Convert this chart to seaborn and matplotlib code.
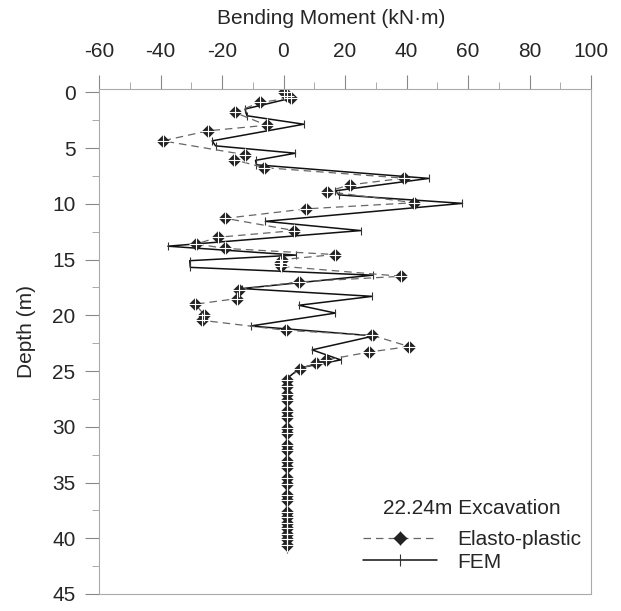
import matplotlib
matplotlib.use("Agg")
import matplotlib.pyplot as plt
from matplotlib.lines import Line2D
from matplotlib.ticker import MultipleLocator
import seaborn as sns

# ---- data ----
ep_depth = [0.0, 0.3, 0.5, 0.9, 1.8, 2.95, 3.45, 4.35, 5.6, 6.05, 6.75, 7.7, 8.3, 8.9,
            9.9, 10.45, 11.3, 12.4, 13.0, 13.6, 14.0, 14.55, 15.0, 15.3, 15.6, 16.5,
            17.0, 17.7, 18.5, 19.0, 19.95, 20.45, 21.35, 21.8, 22.8, 23.3, 24.0, 24.3,
            24.8, 25.8, 26.3, 27.1, 27.6, 28.6, 29.1, 30.1, 30.6, 31.6, 32.1, 33.1,
            33.6, 34.6, 35.1, 36.1, 36.6, 37.6, 38.1, 38.6, 39.1, 39.6, 40.1, 40.6]
ep_moment = [0.1, 1.2, 2.6, -7.5, -15.9, -5.5, -24.5, -39.3, -12.4, -16.0, -6.4, 39.2,
             21.6, 14.2, 42.5, 7.4, -18.9, 3.5, -21.3, -28.3, -19.0, 16.7, -0.4, -1.0,
             -0.8, 38.3, 5.2, -14.6, -15.1, -28.7, -25.8, -26.5, 0.9, 28.9, 40.8, 27.8,
             13.9, 10.6, 5.3, 1.0, 1.0, 1.0, 1.0, 1.0, 1.0, 1.0, 1.0, 1.0, 1.0, 1.0,
             1.0, 1.0, 1.0, 1.0, 1.0, 1.0, 1.0, 1.0, 1.0, 1.0, 1.0, 1.0]

fem_depth = [0.0, 0.5, 1.5, 2.1, 2.86, 4.35, 4.8, 5.46, 6.1, 6.5, 7.72, 8.83, 9.2, 9.96,
             11.57, 12.4, 13.8, 14.6, 15.1, 15.7, 16.4, 17.6, 18.3, 19.1, 19.8, 20.96,
             21.85, 23.1, 24.0, 24.7, 25.7, 41.0]
fem_moment = [0.3, 2.8, -12.5, -11.9, 6.6, -23.2, -22.1, 3.9, -9.1, -8.8, 47.3, 16.9,
              18.0, 58.2, -5.9, 25.1, -37.6, 4.0, -30.5, -30.3, 29.0, -13.5, 28.9, 5.0,
              16.9, -10.7, 29.4, 9.3, 18.6, 5.5, 1.0, 1.0]

x_ticks = [-60, -40, -20, 0, 20, 40, 60, 80, 100]
y_ticks = [0, 5, 10, 15, 20, 25, 30, 35, 40, 45]

title_text = "Bending Moment (kN\u00b7m)"
ylabel_text = "Depth (m)"
legend_title = "22.24m Excavation"
ep_label = "Elasto-plastic"
fem_label = "FEM"

# ---- style ----
sns.set_theme(style="ticks")
plt.rcParams["font.family"] = ["Liberation Sans", "DejaVu Sans"]
plt.rcParams["axes.unicode_minus"] = False
FS = 15

W, H = 621, 611
fig = plt.figure(figsize=(W / 100, H / 100), dpi=100)
ax = fig.add_axes([99 / W, 1 - 594 / H, 492 / W, (594 - 89) / H])

EP_LINE = dict(color="#666666", lw=0.9, linestyle=(0, (6, 4)), marker="D",
               markersize=6, markerfacecolor="#222222", markeredgecolor="#222222")
EP_PLUS = dict(color="#222222", linestyle="none", marker="+", markersize=10,
               markeredgewidth=0.8)
FEM_LINE = dict(color="#111111", lw=1.1, marker="|", markersize=6,
                markeredgewidth=0.8, markeredgecolor="#333333")

# FEM (solid)
sns.lineplot(x=fem_moment, y=fem_depth, sort=False, estimator=None, ax=ax, **FEM_LINE)
# Elasto-plastic (dashed with diamond markers)
sns.lineplot(x=ep_moment, y=ep_depth, sort=False, estimator=None, ax=ax, **EP_LINE)
sns.lineplot(x=ep_moment, y=ep_depth, sort=False, estimator=None, ax=ax, **EP_PLUS)

ax.set_xlim(-60, 100)
ax.set_ylim(45, -0.3)
ax.set_xticks(x_ticks)
ax.set_yticks(y_ticks)
ax.xaxis.set_minor_locator(MultipleLocator(10))
ax.yaxis.set_minor_locator(MultipleLocator(2.5))
ax.xaxis.tick_top()
ax.tick_params(axis="both", which="major", labelsize=FS, length=10, width=0.8,
               color="#888888", direction="out")
ax.tick_params(axis="x", which="major", pad=10)
ax.tick_params(axis="y", which="major", pad=7)
ax.tick_params(axis="both", which="minor", length=5, width=0.7, color="#aaaaaa",
               direction="out")
ax.tick_params(axis="x", which="both", top=True, bottom=False)
ax.set_xlabel("")
ax.set_ylabel("")

fig.text(331 / W, 1 - 18 / H, title_text, fontsize=FS, ha="center", va="center")
fig.text(26 / W, 1 - 331 / H, ylabel_text, fontsize=FS, ha="center", va="center",
         rotation=90)

for s in ax.spines.values():
    s.set_visible(True)
    s.set_color("#aaaaaa")
    s.set_linewidth(0.8)

ax.grid(False)

fig.text(471.5 / W, 1 - 508 / H, legend_title, fontsize=FS, ha="center", va="center")

h_ep = (Line2D([], [], **EP_LINE), Line2D([], [], **EP_PLUS))
fem_handle_style = dict(FEM_LINE)
fem_handle_style["markersize"] = 8
h_fem = Line2D([], [], **fem_handle_style)
leg = ax.legend([h_ep, h_fem], [ep_label, fem_label],
                loc="upper left", bbox_to_anchor=(363 / W, 1 - 530 / H),
                bbox_transform=fig.transFigure, frameon=False, fontsize=FS,
                handlelength=3.56, handletextpad=0.96,
                labelspacing=0.18, borderpad=0, borderaxespad=0)

fig.savefig("out.png", dpi=100)
